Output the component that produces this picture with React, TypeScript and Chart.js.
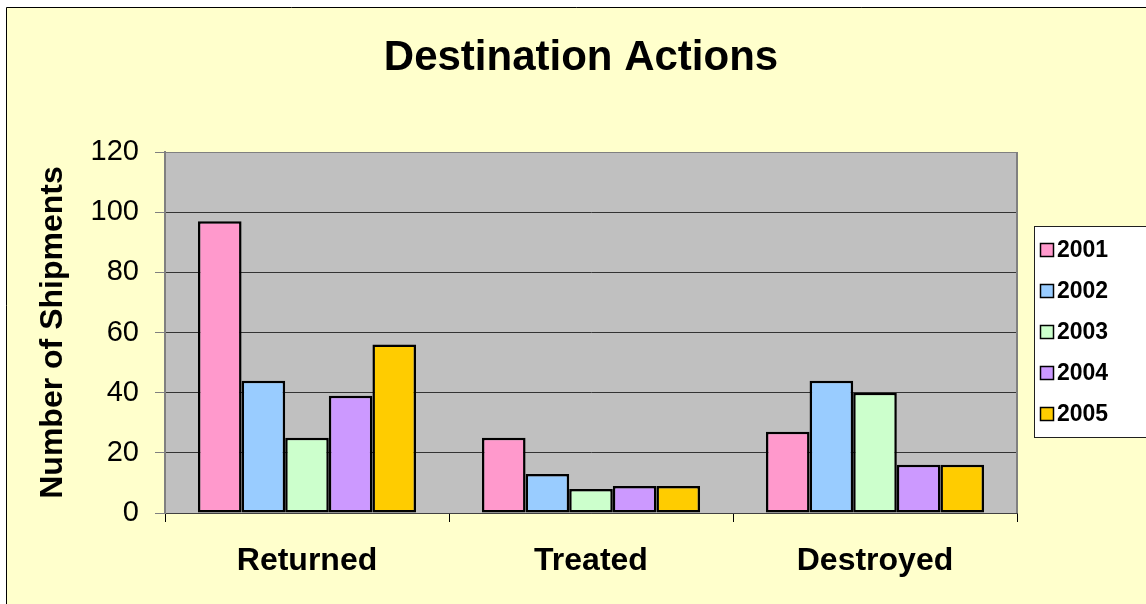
import React, { useEffect, useRef } from "react";
import { Chart, registerables } from "chart.js";

Chart.register(...registerables);

const categories = ["Returned", "Treated", "Destroyed"];
const seriesLabels = ["2001", "2002", "2003", "2004", "2005"];
const values2001 = [97, 25, 27];
const values2002 = [44, 13, 44];
const values2003 = [25, 8, 40];
const values2004 = [39, 9, 16];
const values2005 = [56, 9, 16];
const seriesColors = ["#FF99CC", "#99CCFF", "#CCFFCC", "#CC99FF", "#FFCC00"];
const yMin = 0;
const yMax = 120;
const yStep = 20;
const chartTitle = "Destination Actions";
const yAxisTitle = "Number of Shipments";

const FONT = "'Liberation Sans', Arial, Helvetica, sans-serif";

const backgroundPlugin = {
  id: "bgPlugin",
  beforeDraw(chart: any) {
    const { ctx, width, height, chartArea } = chart;
    ctx.save();
    ctx.fillStyle = "#FFFFFF";
    ctx.fillRect(0, 0, width, height);
    ctx.fillStyle = "#FFFFCC";
    ctx.fillRect(6, 7, width - 6, height - 7);
    ctx.strokeStyle = "#000000";
    ctx.lineWidth = 1;
    ctx.beginPath();
    ctx.moveTo(6.5, height);
    ctx.lineTo(6.5, 7.5);
    ctx.lineTo(width, 7.5);
    ctx.stroke();
    ctx.fillStyle = "#C0C0C0";
    ctx.fillRect(chartArea.left, chartArea.top, chartArea.right - chartArea.left, chartArea.bottom - chartArea.top);
    ctx.restore();
  },
  afterDraw(chart: any) {
    const { ctx, chartArea } = chart;
    ctx.save();
    // right and top border of plot area
    ctx.strokeStyle = "#808080";
    ctx.lineWidth = 2;
    ctx.beginPath();
    ctx.moveTo(chartArea.right, chartArea.top);
    ctx.lineTo(chartArea.right, chartArea.bottom);
    ctx.stroke();
    ctx.lineWidth = 1;
    ctx.beginPath();
    ctx.moveTo(chartArea.left, chartArea.top + 0.5);
    ctx.lineTo(chartArea.right, chartArea.top + 0.5);
    ctx.stroke();

    // title
    ctx.fillStyle = "#000000";
    ctx.font = `bold 42px ${FONT}`;
    ctx.textAlign = "center";
    ctx.textBaseline = "alphabetic";
    ctx.fillText(chartTitle, 581, 70);

    // legend
    const lx = 1034.5;
    const ly = 226.5;
    const lw = 130;
    const lh = 211;
    ctx.fillStyle = "#FFFFFF";
    ctx.fillRect(lx, ly, lw, lh);
    ctx.strokeStyle = "#202020";
    ctx.lineWidth = 1;
    ctx.strokeRect(lx, ly, lw, lh);
    ctx.font = `bold 23px ${FONT}`;
    ctx.textAlign = "left";
    ctx.textBaseline = "middle";
    chart.data.datasets.forEach((ds: any, i: number) => {
      const cy = 250 + i * 41;
      ctx.fillStyle = ds.backgroundColor;
      ctx.fillRect(1040.5, cy - 6.5, 13, 13);
      ctx.strokeStyle = "#000000";
      ctx.lineWidth = 1.5;
      ctx.strokeRect(1040.5, cy - 6.5, 13, 13);
      ctx.fillStyle = "#000000";
      ctx.fillText(ds.label, 1057, cy + 1);
    });
    ctx.restore();
  },
};

export default function App() {
  const canvasRef = useRef<HTMLCanvasElement | null>(null);

  useEffect(() => {
    if (!canvasRef.current) return;
    const seriesValues = [values2001, values2002, values2003, values2004, values2005];
    const chart = new Chart(canvasRef.current, {
      type: "bar",
      data: {
        labels: categories,
        datasets: seriesLabels.map((label, i) => ({
          label,
          data: seriesValues[i],
          backgroundColor: seriesColors[i],
          borderColor: "#000000",
          borderWidth: 2.5,
          borderSkipped: false,
          categoryPercentage: 0.768,
          barPercentage: 1,
        })),
      },
      options: {
        animation: false,
        responsive: true,
        maintainAspectRatio: false,
        layout: { padding: { left: 0, top: 152, right: 129, bottom: 0 } },
        plugins: {
          legend: { display: false },
          title: { display: false },
          tooltip: { enabled: false },
        },
        scales: {
          x: {
            grid: {
              offset: true,
              drawOnChartArea: false,
              drawTicks: true,
              tickLength: 9,
              color: "#000000",
              tickColor: "#000000",
            },
            border: { color: "#404040", width: 1 },
            ticks: {
              color: "#000000",
              font: { family: FONT, size: 32, weight: "bold" },
              padding: 20,
            },
            afterFit: (s: any) => {
              s.height = 91;
            },
          },
          y: {
            min: yMin,
            max: yMax,
            ticks: {
              stepSize: yStep,
              color: "#000000",
              font: { family: FONT, size: 29 },
              padding: 16,
            },
            grid: {
              color: "#333333",
              tickColor: "#808080",
              tickLength: 10,
            },
            border: { color: "#808080", width: 2 },
            title: {
              display: true,
              text: yAxisTitle,
              color: "#000000",
              font: { family: FONT, size: 32, weight: "bold" },
              padding: { top: 34, bottom: 0 },
            },
            afterFit: (s: any) => {
              s.width = 165;
            },
          },
        },
      },
      plugins: [backgroundPlugin],
    });
    return () => chart.destroy();
  }, []);

  return (
    <div style={{ position: "fixed", left: 0, top: 0, width: 1146, height: 604 }}>
      <canvas ref={canvasRef} />
    </div>
  );
}
